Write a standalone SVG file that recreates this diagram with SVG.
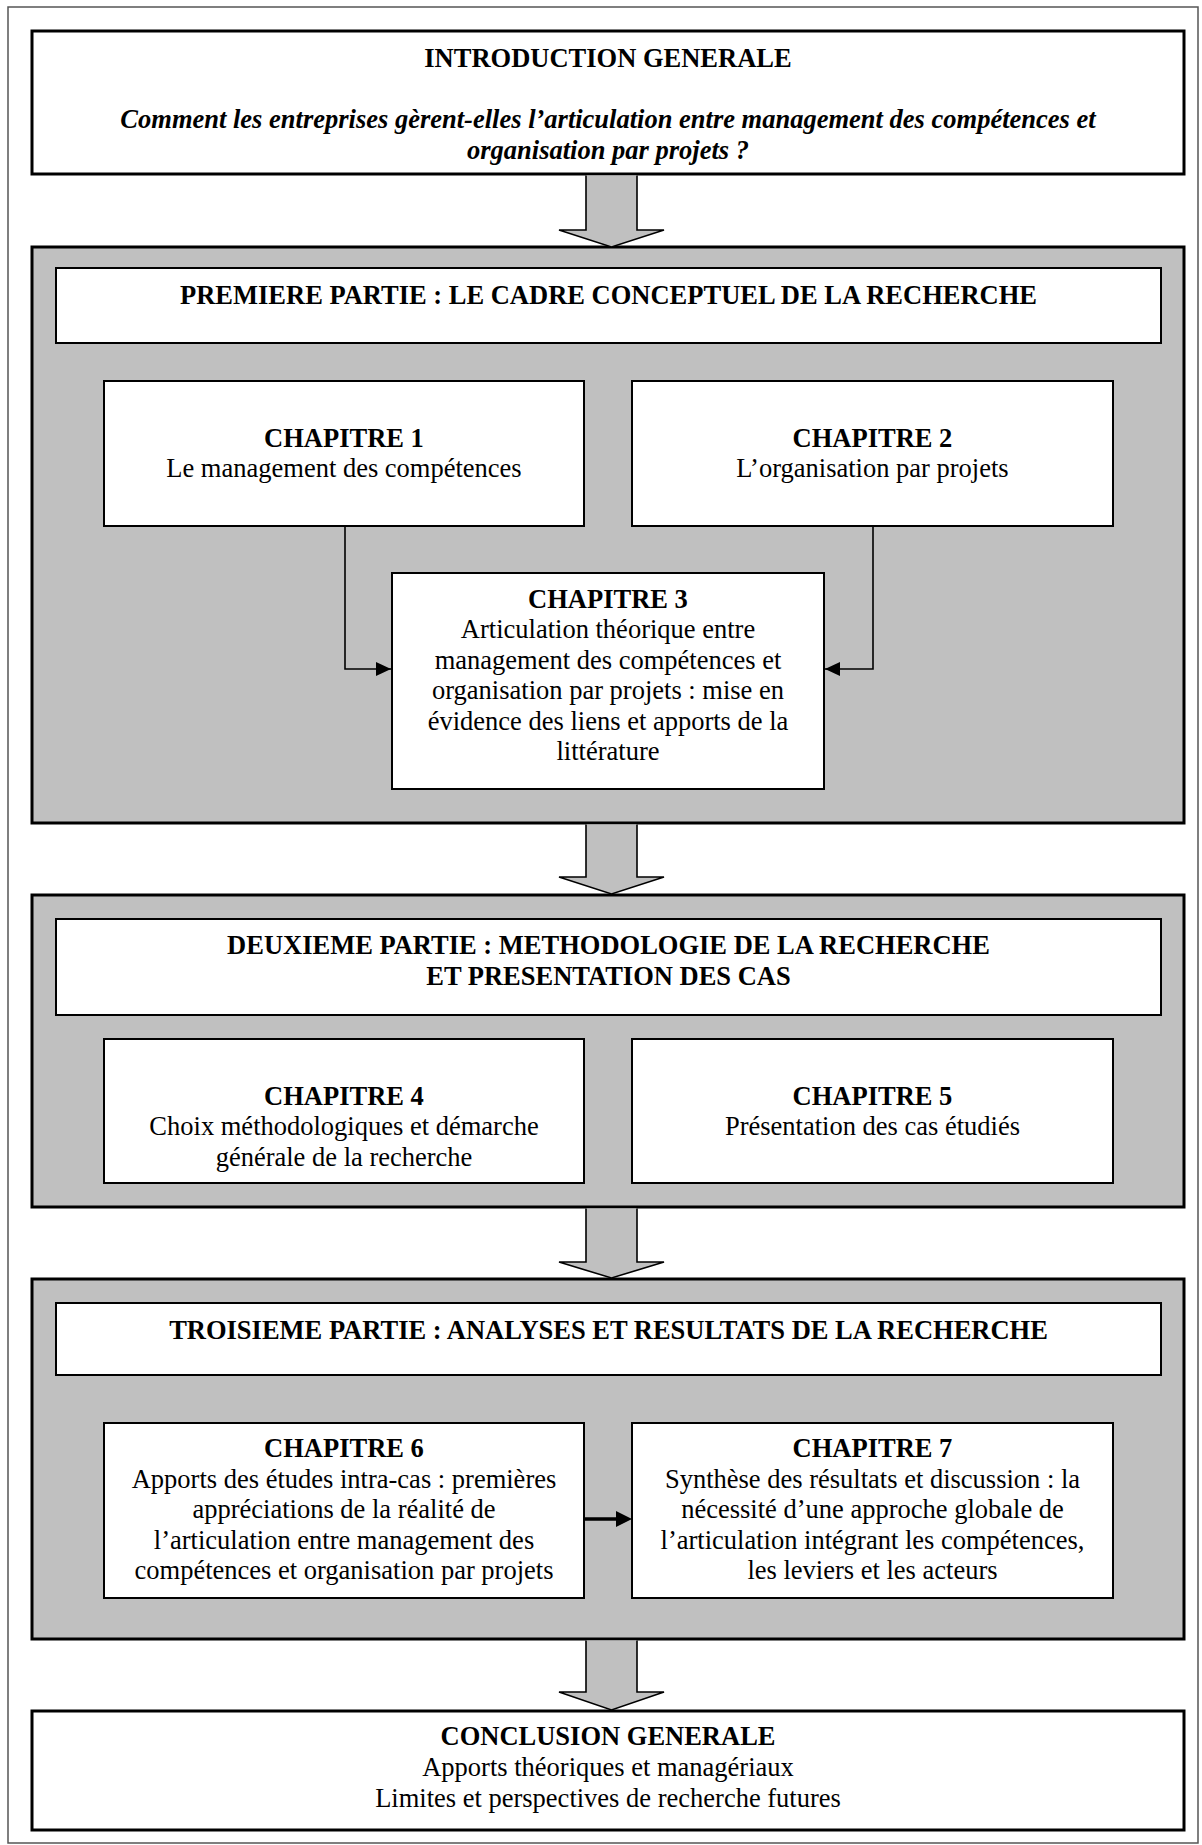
<svg xmlns="http://www.w3.org/2000/svg" width="1202" height="1845" viewBox="0 0 1202 1845">
<defs>
<style>
.t{font-family:"Liberation Serif","Times New Roman",serif;font-size:26.5px;fill:#000;text-anchor:middle}
.b{font-weight:bold}
.bi{font-weight:bold;font-style:italic}
.outer{fill:#fff;stroke:#000;stroke-width:3}
.part{fill:#c0c0c0;stroke:#000;stroke-width:3}
.inner{fill:#fff;stroke:#000;stroke-width:2}
.block{fill:#c0c0c0;stroke:#000;stroke-width:1.6;stroke-linejoin:miter}
.thin{fill:none;stroke:#000;stroke-width:1.6}
</style>
<marker id="ah" markerUnits="userSpaceOnUse" markerWidth="16" markerHeight="14" refX="15" refY="7" orient="auto">
<path d="M0,0 L15,7 L0,14 Z" fill="#000"/>
</marker>
</defs>
<rect x="8" y="7" width="1190" height="1836" fill="#fff" stroke="#555" stroke-width="1.5"/>

<g id="intro">
<rect class="outer" x="32" y="31" width="1152" height="143"/>
<text class="t b" x="608" y="67">INTRODUCTION GENERALE</text>
<text class="t bi" x="608" y="128">Comment les entreprises gèrent-elles l’articulation entre management des compétences et</text>
<text class="t bi" x="608" y="158.5">organisation par projets ?</text>
</g>

<g id="partie1">
<rect class="part" x="32" y="247" width="1152" height="576"/>
<rect class="inner" x="56" y="268" width="1105" height="75"/>
<text class="t b" x="608.5" y="304">PREMIERE PARTIE : LE CADRE CONCEPTUEL DE LA RECHERCHE</text>
</g>
<g id="chapitre1">
<rect class="inner" x="104" y="381" width="480" height="145"/>
<text class="t b" x="344" y="447">CHAPITRE 1</text>
<text class="t" x="344" y="477">Le management des compétences</text>
</g>
<g id="chapitre2">
<rect class="inner" x="632" y="381" width="481" height="145"/>
<text class="t b" x="872.5" y="447">CHAPITRE 2</text>
<text class="t" x="872.5" y="477">L’organisation par projets</text>
</g>
<g id="chapitre3">
<rect class="inner" x="392" y="573" width="432" height="216"/>
<text class="t b" x="608" y="608">CHAPITRE 3</text>
<text class="t" x="608" y="638.4">Articulation théorique entre</text>
<text class="t" x="608" y="668.8">management des compétences et</text>
<text class="t" x="608" y="699.2">organisation par projets : mise en</text>
<text class="t" x="608" y="729.6">évidence des liens et apports de la</text>
<text class="t" x="608" y="760">littérature</text>
</g>

<g id="partie2">
<rect class="part" x="32" y="895" width="1152" height="312"/>
<rect class="inner" x="56" y="919" width="1105" height="96"/>
<text class="t b" x="608.5" y="954">DEUXIEME PARTIE : METHODOLOGIE DE LA RECHERCHE</text>
<text class="t b" x="608.5" y="984.5">ET PRESENTATION DES CAS</text>
</g>
<g id="chapitre4">
<rect class="inner" x="104" y="1039" width="480" height="144"/>
<text class="t b" x="344" y="1104.5">CHAPITRE 4</text>
<text class="t" x="344" y="1135">Choix méthodologiques et démarche</text>
<text class="t" x="344" y="1165.5">générale de la recherche</text>
</g>
<g id="chapitre5">
<rect class="inner" x="632" y="1039" width="481" height="144"/>
<text class="t b" x="872.5" y="1104.5">CHAPITRE 5</text>
<text class="t" x="872.5" y="1135">Présentation des cas étudiés</text>
</g>

<g id="partie3">
<rect class="part" x="32" y="1279" width="1152" height="360"/>
<rect class="inner" x="56" y="1303" width="1105" height="72"/>
<text class="t b" x="608.5" y="1339">TROISIEME PARTIE : ANALYSES ET RESULTATS DE LA RECHERCHE</text>
</g>
<g id="chapitre6">
<rect class="inner" x="104" y="1423" width="480" height="175"/>
<text class="t b" x="344" y="1457">CHAPITRE 6</text>
<text class="t" x="344" y="1487.5">Apports des études intra-cas : premières</text>
<text class="t" x="344" y="1518">appréciations de la réalité de</text>
<text class="t" x="344" y="1548.5">l’articulation entre management des</text>
<text class="t" x="344" y="1579">compétences et organisation par projets</text>
</g>
<g id="chapitre7">
<rect class="inner" x="632" y="1423" width="481" height="175"/>
<text class="t b" x="872.5" y="1457">CHAPITRE 7</text>
<text class="t" x="872.5" y="1487.5">Synthèse des résultats et discussion : la</text>
<text class="t" x="872.5" y="1518">nécessité d’une approche globale de</text>
<text class="t" x="872.5" y="1548.5">l’articulation intégrant les compétences,</text>
<text class="t" x="872.5" y="1579">les leviers et les acteurs</text>
</g>

<g id="conclusion">
<rect class="outer" x="32" y="1711" width="1152" height="119"/>
<text class="t b" x="608" y="1745">CONCLUSION GENERALE</text>
<text class="t" x="608" y="1776">Apports théoriques et managériaux</text>
<text class="t" x="608" y="1807">Limites et perspectives de recherche futures</text>
</g>

<g id="connectors">
<path class="block" d="M586,175.5 V230 H559 L611.5,247 L664,230 H637 V175.5"/>
<path class="block" d="M586,824.5 V877 H559 L611.5,894 L664,877 H637 V824.5"/>
<path class="block" d="M586,1208.5 V1262 H559 L611.5,1278 L664,1262 H637 V1208.5"/>
<path class="block" d="M586,1640.5 V1692 H559 L611.5,1710 L664,1692 H637 V1640.5"/>
<path class="thin" d="M345,527 V669 H391" marker-end="url(#ah)"/>
<path class="thin" d="M873,527 V669 H825" marker-end="url(#ah)"/>
<line x1="585" y1="1519" x2="618" y2="1519" stroke="#000" stroke-width="3.5"/>
<path d="M616,1511 L632,1519 L616,1527 Z" fill="#000"/>
</g>
</svg>
